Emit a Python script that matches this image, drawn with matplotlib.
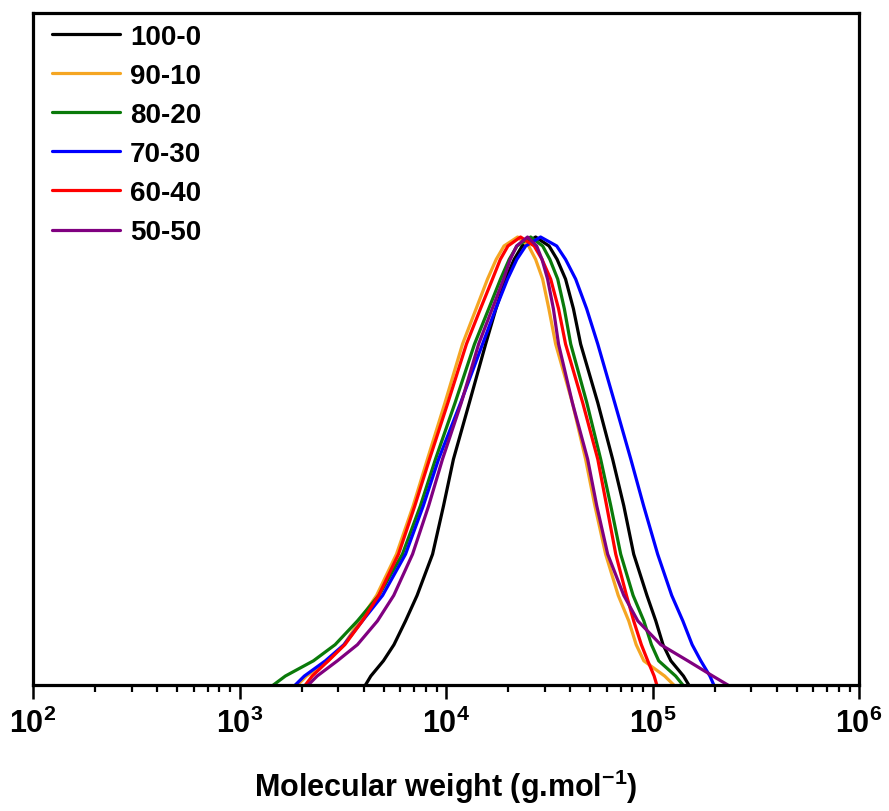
import math
import matplotlib
matplotlib.use("Agg")
import matplotlib.pyplot as plt
from matplotlib.ticker import LogLocator, FuncFormatter, NullFormatter

# ---- data ----
# normalised intensity at each sampled point (same sampling heights for all curves)
intensity = [0, 0.02, 0.054, 0.09, 0.143, 0.2, 0.292, 0.4, 0.504, 0.63, 0.761,
             0.84, 0.906, 0.95, 0.98, 1.0, 0.98, 0.95, 0.906, 0.84, 0.761,
             0.63, 0.504, 0.4, 0.292, 0.2, 0.143, 0.09, 0.054, 0.02, 0]

# log10 of molecular weight (g/mol) at those heights
log_mw_100_0 = [3.610, 3.636, 3.697, 3.748, 3.804, 3.860, 3.935, 3.988, 4.036, 4.113, 4.192,
                4.242, 4.289, 4.330, 4.369, 4.434, 4.499, 4.538, 4.579, 4.617, 4.652,
                4.735, 4.807, 4.861, 4.909, 4.973, 5.016, 5.051, 5.089, 5.150, 5.176]
log_mw_90_10 = [3.280, 3.325, 3.430, 3.506, 3.581, 3.664, 3.760, 3.841, 3.910, 3.995, 4.080,
                4.146, 4.201, 4.243, 4.281, 4.347, 4.400, 4.434, 4.468, 4.498, 4.531,
                4.612, 4.676, 4.721, 4.773, 4.834, 4.885, 4.921, 4.958, 5.059, 5.103]
log_mw_80_20 = [3.164, 3.222, 3.358, 3.463, 3.571, 3.675, 3.789, 3.876, 3.949, 4.044, 4.138,
                4.207, 4.264, 4.306, 4.344, 4.410, 4.468, 4.503, 4.541, 4.573, 4.604,
                4.682, 4.749, 4.798, 4.846, 4.906, 4.958, 4.995, 5.030, 5.112, 5.147]
log_mw_70_30 = [3.270, 3.314, 3.416, 3.506, 3.595, 3.693, 3.804, 3.890, 3.964, 4.071, 4.177,
                4.241, 4.298, 4.343, 4.386, 4.458, 4.536, 4.579, 4.628, 4.681, 4.735,
                4.817, 4.895, 4.957, 5.025, 5.093, 5.147, 5.192, 5.234, 5.278, 5.297]
log_mw_60_40 = [3.319, 3.352, 3.430, 3.510, 3.595, 3.674, 3.770, 3.849, 3.920, 4.009, 4.099,
                4.167, 4.225, 4.263, 4.300, 4.361, 4.427, 4.465, 4.507, 4.545, 4.579,
                4.662, 4.735, 4.778, 4.822, 4.874, 4.909, 4.946, 4.977, 5.008, 5.021]
log_mw_50_50 = [3.333, 3.376, 3.474, 3.571, 3.668, 3.747, 3.838, 3.916, 3.983, 4.074, 4.158,
                4.224, 4.279, 4.311, 4.342, 4.395, 4.439, 4.465, 4.492, 4.520, 4.545,
                4.612, 4.686, 4.730, 4.783, 4.861, 4.929, 5.040, 5.171, 5.292, 5.365]

labels = ["100-0", "90-10", "80-20", "70-30", "60-40", "50-50"]
series = [log_mw_100_0, log_mw_90_10, log_mw_80_20, log_mw_70_30, log_mw_60_40, log_mw_50_50]
colors = ["#000000", "#F5A623", "#0A7A0A", "#0000FF", "#FF0000", "#800080"]

plt.rcParams['font.family'] = ['Liberation Sans', 'DejaVu Sans']
plt.rcParams['font.weight'] = 'bold'
plt.rcParams['mathtext.fontset'] = 'custom'
plt.rcParams['mathtext.rm'] = 'Liberation Sans:bold'
plt.rcParams['mathtext.bf'] = 'Liberation Sans:bold'
plt.rcParams['mathtext.it'] = 'Liberation Sans:bold'

fig = plt.figure(figsize=(8.89, 8.12), dpi=100)
ax = fig.add_axes([33/889, 1-686/812, (859-33)/889, (686-14)/812])

for lmw, lab, col in zip(series, labels, colors):
    mw = [10 ** v for v in lmw]
    ax.plot(mw, intensity, color=col, lw=2.3, label=lab,
            solid_joinstyle='round', solid_capstyle='round')

ax.set_xscale('log')
ax.set_xlim(1e2, 1e6)
ax.set_ylim(0, 1.5)

for sp in ax.spines.values():
    sp.set_linewidth(2.3)

ax.xaxis.set_major_locator(LogLocator(base=10, numticks=10))
ax.xaxis.set_minor_locator(LogLocator(base=10, subs=range(2, 10), numticks=20))
ax.xaxis.set_major_formatter(FuncFormatter(lambda v, p: r'$\mathbf{10^{%d}}$' % round(math.log10(v))))
ax.xaxis.set_minor_formatter(NullFormatter())
ax.tick_params(axis='x', which='major', direction='out', length=10, width=1.8,
               labelsize=22, pad=6, top=False)
ax.tick_params(axis='x', which='minor', direction='out', length=5, width=1.6, top=False)
ax.set_yticks([])

ax.set_xlabel(r'Molecular weight (g.mol$^{\mathbf{-1}}$)', fontsize=22, fontweight='bold')
ax.xaxis.set_label_coords(0.5, -(768 - 686) / 672)

leg = ax.legend(loc='upper left', frameon=False, fontsize=20, handlelength=2.45,
                handletextpad=0.35, labelspacing=0.47, borderaxespad=0.0,
                borderpad=0.0, bbox_to_anchor=(19/826, 1 - 11/672))
for line in leg.get_lines():
    line.set_linewidth(2.3)

fig.savefig("out.png", dpi=100)
